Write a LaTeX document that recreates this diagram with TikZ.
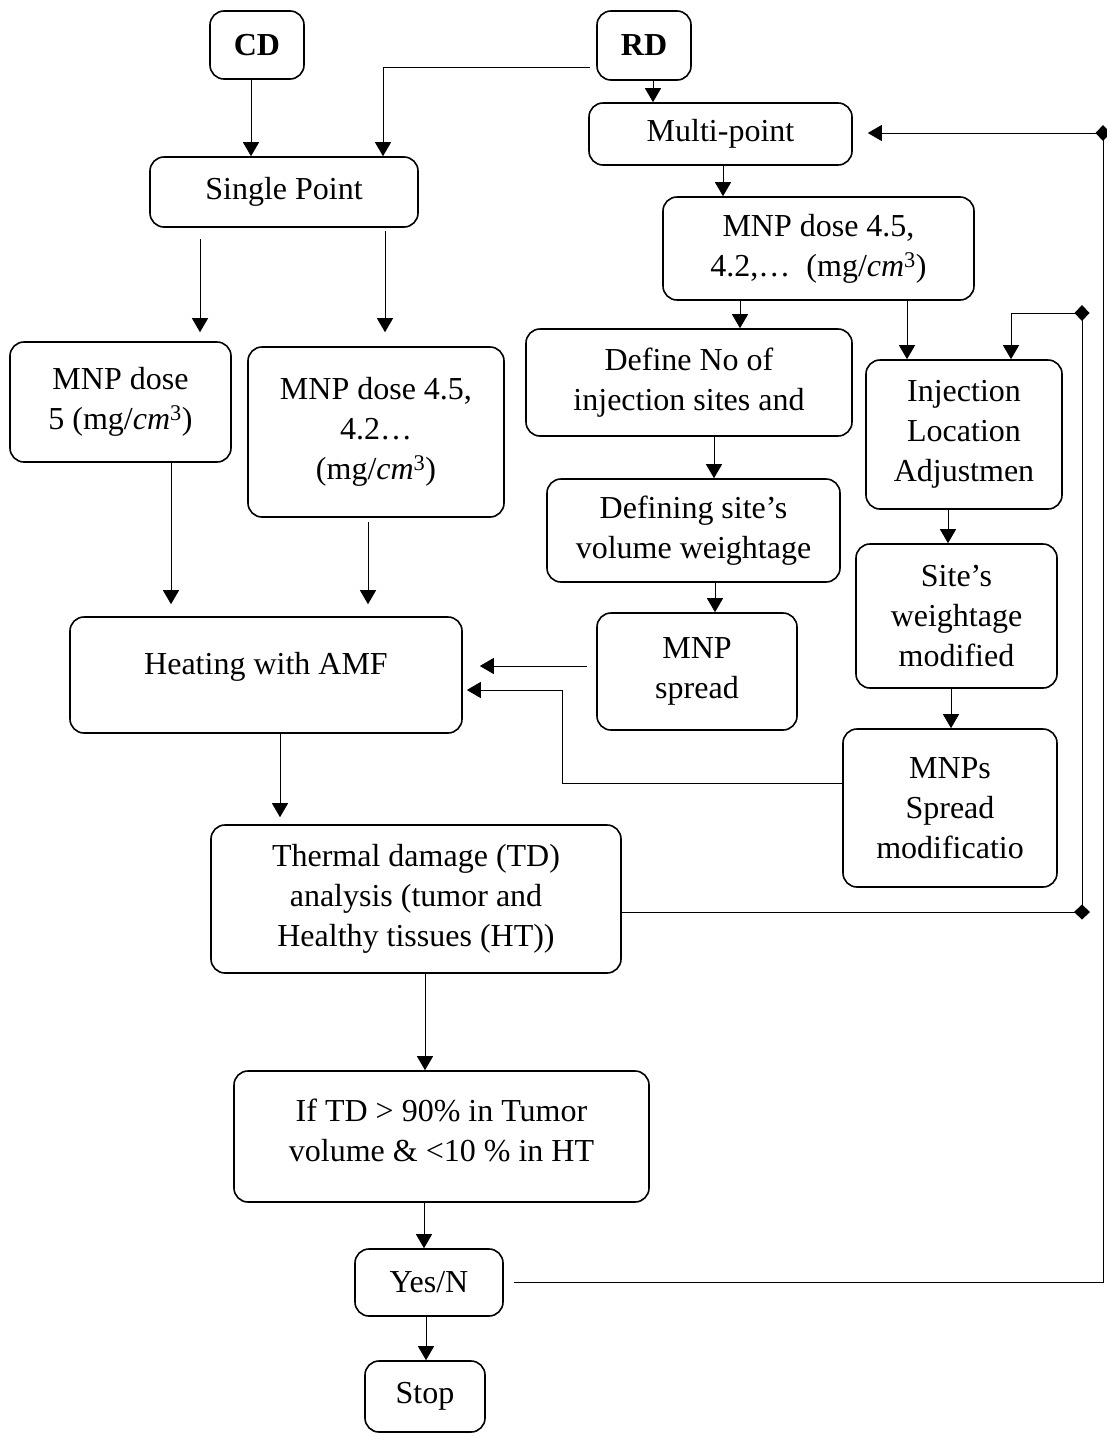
\documentclass[tikz,border=0pt]{standalone}
\usepackage{fontspec}
\setmainfont{Liberation Serif}
\usetikzlibrary{arrows.meta}
\newcommand{\mgcm}{(mg/\textit{cm}\textsuperscript{3})}
\begin{document}
\begin{tikzpicture}[x=1pt,y=-1pt,
  box/.style={draw, line width=1.6pt, rounded corners=14pt, inner sep=0pt, align=center,
    font=\fontsize{32}{40}\selectfont},
  txt/.style={align=center, inner sep=0pt, font=\fontsize{32}{40}\selectfont},
  arr/.style={line width=1pt, -{Triangle[length=14pt,width=16pt]}},
  ln/.style={line width=1pt},
  dia/.style={line width=1pt, -{Diamond[length=16pt,width=15pt]}, shorten >=-8pt}]
\useasboundingbox (0,0) rectangle (1106,1438);

% boxes
\node[box, minimum width=94pt, minimum height=68pt] (CD) at (257,45) {\textbf{CD}};
\node[box, minimum width=94pt, minimum height=69pt] (RD) at (644,45.5) {\textbf{RD}};
\node[box, minimum width=268pt, minimum height=70pt] (SP) at (284,192) {Single Point};
\node[box, minimum width=263pt, minimum height=62pt] (MR) at (720.5,134) {Multi-point};
\node[box, minimum width=311pt, minimum height=103pt] (DR) at (818.5,248.5) {MNP dose 4.5,\\4.2,…\ \ \mgcm};
\node[box, minimum width=221pt, minimum height=120pt] (D5) at (120.5,402) {MNP dose\\5 \mgcm};
\node[box, minimum width=256pt, minimum height=170pt] (DL) at (376,432) {MNP dose 4.5,\\4.2…\\\mgcm};
\node[box, minimum width=326pt, minimum height=107pt] (DN) at (689,382.5) {Define No of\\injection sites and};
\node[box, minimum width=196pt, minimum height=149pt] (INJ) at (964,434.5) {Injection\\Location\\Adjustmen};
\node[box, minimum width=293pt, minimum height=103pt] (DS) at (693.5,530.5) {Defining site’s\\volume weightage};
\node[box, minimum width=200pt, minimum height=117pt] (MS) at (697,671.5) {MNP\\spread};
\node[box, minimum width=201pt, minimum height=144pt] (SW) at (956.5,616) {Site’s\\weightage\\modified};
\node[box, minimum width=214pt, minimum height=158pt] (MN) at (950,808) {MNPs\\Spread\\modificatio};
\node[box, minimum width=392pt, minimum height=116pt,
  label={[txt, yshift=8pt]center:Heating with AMF}] (HE) at (266,675) {};
\node[box, minimum width=410pt, minimum height=148pt] (TD) at (416,899) {Thermal damage (TD)\\analysis (tumor and\\Healthy tissues (HT))};
\node[box, minimum width=415pt, minimum height=131pt,
  label={[txt, yshift=6pt]center:If TD > 90\% in Tumor\\volume \& <10 \% in HT}] (IF) at (441.5,1136.5) {};
\node[box, minimum width=148pt, minimum height=67pt] (YN) at (429,1282.5) {Yes/N};
\node[box, minimum width=120pt, minimum height=71pt] (ST) at (425,1396.5) {Stop};

% helper coordinates
\coordinate (x171) at (171,0);
\coordinate (x200) at (200,0);
\coordinate (x251) at (251,0);
\coordinate (x280) at (280,0);
\coordinate (x368) at (368,0);
\coordinate (x383) at (383,0);
\coordinate (x385) at (385,0);
\coordinate (x424) at (424,0);
\coordinate (x425) at (425,0);
\coordinate (x426) at (426,0);
\coordinate (x562) at (562,0);
\coordinate (x653) at (653,0);
\coordinate (x714) at (714,0);
\coordinate (x715) at (715,0);
\coordinate (x723) at (723,0);
\coordinate (x740) at (740,0);
\coordinate (x907) at (907,0);
\coordinate (x948) at (948,0);
\coordinate (x951) at (951,0);
\coordinate (x1011) at (1011,0);
\coordinate (x1082) at (1082,0);
\coordinate (x1103) at (1103,0);
\coordinate (y133) at (0,133);
\coordinate (y313) at (0,313);
\coordinate (y666) at (0,666);
\coordinate (y690) at (0,690);
\coordinate (y783) at (0,783);
\coordinate (y912) at (0,912);
\coordinate (rdl) at (590,67);

% connectors
\draw[arr] (CD.south -| x251) -- (SP.north -| x251);
\draw[arr] (rdl) -| (SP.north -| x383);
\draw[arr] (RD.south -| x653) -- (MR.north -| x653);
\draw[arr] (MR.south -| x723) -- (DR.north -| x723);
\draw[arr, shorten <=11pt, shorten >=9pt] (SP.south -| x200) -- (D5.north -| x200);
\draw[arr, shorten <=3pt, shorten >=14pt] (SP.south -| x385) -- (DL.north -| x385);
\draw[arr, shorten >=12pt] (D5.south -| x171) -- (HE.north -| x171);
\draw[arr, shorten <=4pt, shorten >=12pt] (DL.south -| x368) -- (HE.north -| x368);
\draw[arr] (DR.south -| x740) -- (DN.north -| x740);
\draw[arr] (DR.south -| x907) -- (INJ.north -| x907);
\draw[arr] (DN.south -| x714) -- (DS.north -| x714);
\draw[arr] (DS.south -| x715) -- (MS.north -| x715);
\draw[arr, shorten <=9pt, shorten >=17pt] (MS.west |- y666) -- (HE.east |- y666);
\draw[arr, shorten >=4pt] (MN.west |- y783) -- (x562 |- y783) -- (x562 |- y690) -- (HE.east |- y690);
\draw[arr] (INJ.south -| x948) -- (SW.north -| x948);
\draw[arr] (SW.south -| x951) -- (MN.north -| x951);
\draw[arr, shorten >=7pt] (HE.south -| x280) -- (TD.north -| x280);
\draw[arr] (TD.south -| x425) -- (IF.north -| x425);
\draw[arr] (IF.south -| x424) -- (YN.north -| x424);
\draw[arr] (YN.south -| x426) -- (ST.north -| x426);

% feedback loops
\draw[dia] (TD.east |- y912) -- (x1082 |- y912);
\draw[dia] (x1082 |- y912) -- (x1082 |- y313);
\draw[arr] (x1082 |- y313) -- (x1011 |- y313) -- (INJ.north -| x1011);
\draw[dia, shorten <=10pt] (YN.east) -- (x1103 |- YN.east) -- (x1103 |- y133);
\draw[arr, shorten >=15pt] (x1103 |- y133) -- (MR.east |- y133);
\end{tikzpicture}
\end{document}
